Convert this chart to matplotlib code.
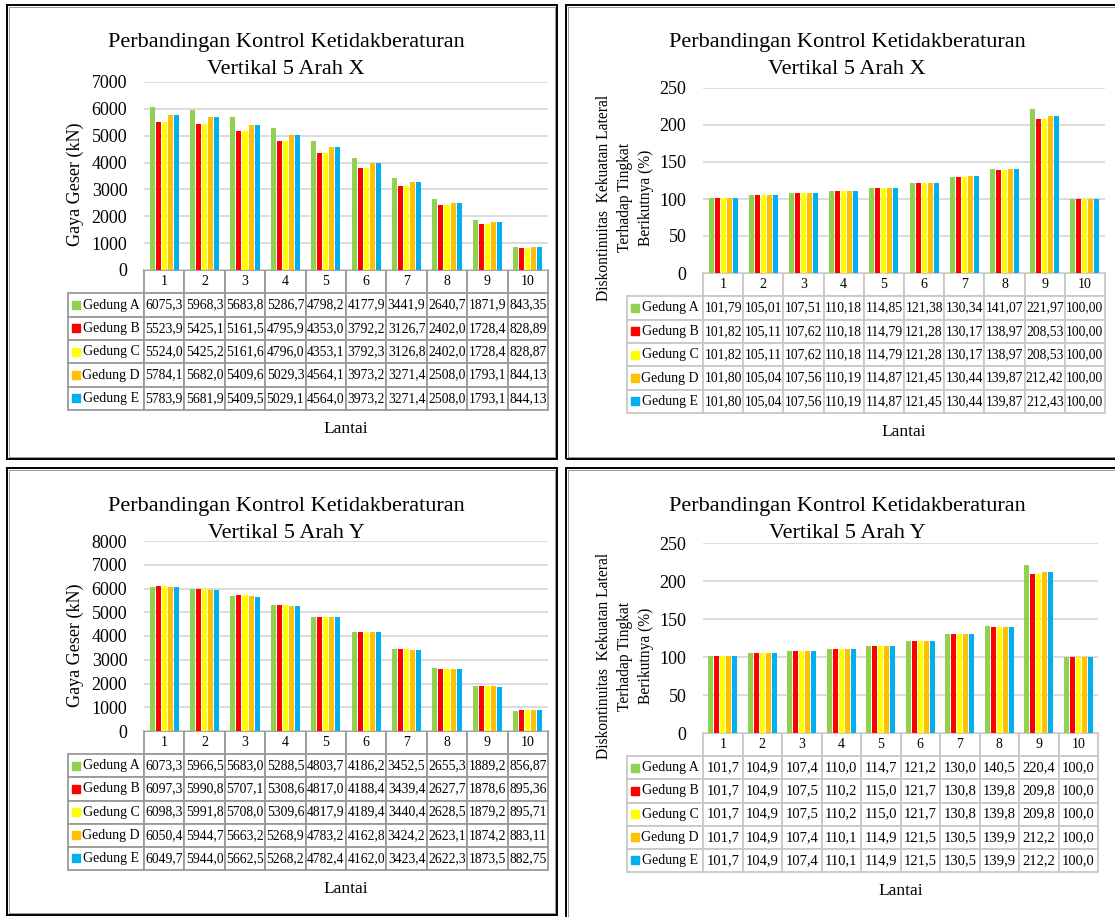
import numpy as np
import matplotlib.pyplot as plt
from matplotlib.patches import Rectangle

plt.rcParams['font.family'] = ['Liberation Serif', 'DejaVu Serif']

W, H = 1115, 917

lantai = [str(i) for i in range(1, 11)]
gedung = ['Gedung A', 'Gedung B', 'Gedung C', 'Gedung D', 'Gedung E']
warna = ['#92D050', '#FF0000', '#FFFF00', '#FFC000', '#00B0F0']

# gaya geser arah X (kN)
geser_x_a = [6075.3, 5968.3, 5683.8, 5286.7, 4798.2, 4177.9, 3441.9, 2640.7, 1871.9, 843.35]
geser_x_b = [5523.9, 5425.1, 5161.5, 4795.9, 4353.0, 3792.2, 3126.7, 2402.0, 1728.4, 828.89]
geser_x_c = [5524.0, 5425.2, 5161.6, 4796.0, 4353.1, 3792.3, 3126.8, 2402.0, 1728.4, 828.87]
geser_x_d = [5784.1, 5682.0, 5409.6, 5029.3, 4564.1, 3973.2, 3271.4, 2508.0, 1793.1, 844.13]
geser_x_e = [5783.9, 5681.9, 5409.5, 5029.1, 4564.0, 3973.2, 3271.4, 2508.0, 1793.1, 844.13]

# rasio kekuatan lateral arah X (%)
rasio_x_a = [101.79, 105.01, 107.51, 110.18, 114.85, 121.38, 130.34, 141.07, 221.97, 100.00]
rasio_x_b = [101.82, 105.11, 107.62, 110.18, 114.79, 121.28, 130.17, 138.97, 208.53, 100.00]
rasio_x_c = [101.82, 105.11, 107.62, 110.18, 114.79, 121.28, 130.17, 138.97, 208.53, 100.00]
rasio_x_d = [101.80, 105.04, 107.56, 110.19, 114.87, 121.45, 130.44, 139.87, 212.42, 100.00]
rasio_x_e = [101.80, 105.04, 107.56, 110.19, 114.87, 121.45, 130.44, 139.87, 212.43, 100.00]

# gaya geser arah Y (kN)
geser_y_a = [6073.3, 5966.5, 5683.0, 5288.5, 4803.7, 4186.2, 3452.5, 2655.3, 1889.2, 856.87]
geser_y_b = [6097.3, 5990.8, 5707.1, 5308.6, 4817.0, 4188.4, 3439.4, 2627.7, 1878.6, 895.36]
geser_y_c = [6098.3, 5991.8, 5708.0, 5309.6, 4817.9, 4189.4, 3440.4, 2628.5, 1879.2, 895.71]
geser_y_d = [6050.4, 5944.7, 5663.2, 5268.9, 4783.2, 4162.8, 3424.2, 2623.1, 1874.2, 883.11]
geser_y_e = [6049.7, 5944.0, 5662.5, 5268.2, 4782.4, 4162.0, 3423.4, 2622.3, 1873.5, 882.75]

# rasio kekuatan lateral arah Y (%)
rasio_y_a = [101.7, 104.9, 107.4, 110.0, 114.7, 121.2, 130.0, 140.5, 220.4, 100.0]
rasio_y_b = [101.7, 104.9, 107.5, 110.2, 115.0, 121.7, 130.8, 139.8, 209.8, 100.0]
rasio_y_c = [101.7, 104.9, 107.5, 110.2, 115.0, 121.7, 130.8, 139.8, 209.8, 100.0]
rasio_y_d = [101.7, 104.9, 107.4, 110.1, 114.9, 121.5, 130.5, 139.9, 212.2, 100.0]
rasio_y_e = [101.7, 104.9, 107.4, 110.1, 114.9, 121.5, 130.5, 139.9, 212.2, 100.0]

# jumlah desimal tiap kolom tabel
des_geser = [1] * 9 + [2]
des_rasio_x = [2] * 10
des_rasio_y = [1] * 10

fig = plt.figure(figsize=(W / 100, H / 100), dpi=100)


def kotak(x0, y0, x1, y1):
    fig.patches.append(Rectangle((x0 / W, 1 - y1 / H), (x1 - x0) / W, (y1 - y0) / H,
                                 transform=fig.transFigure, fill=False, ec='black', lw=1.4))
    fig.patches.append(Rectangle(((x0 + 2) / W, 1 - (y1 - 2) / H), (x1 - x0 - 4) / W, (y1 - y0 - 4) / H,
                                 transform=fig.transFigure, fill=False, ec='#888888', lw=0.6))


def fmt(v, d):
    return f'{v:.{d}f}'.replace('.', ',')


def panel(l, r, top, bot, tab_left, tab_bot, data, des, ymax, ystep,
          judul, arah, ylabel, ylabel_fs, ylabel_x, ylabel_dy, box, edge, val_fs):
    kotak(*box)
    ax = fig.add_axes([l / W, 1 - bot / H, (r - l) / W, (bot - top) / H])
    x = np.arange(10)
    for i, (seri, c) in enumerate(zip(data, warna)):
        ax.bar(x + (i - 2) * 0.15, seri, width=0.125, color=c, zorder=3)
    ax.set_xlim(-0.5, 9.5)
    ax.set_ylim(0, ymax)
    ax.set_yticks(np.arange(0, ymax + 1, ystep))
    ax.set_xticks([])
    ax.tick_params(axis='y', length=0, pad=12, labelsize=13)
    ax.grid(axis='y', color='#d9d9d9', lw=1.3, zorder=0)
    for s in ax.spines.values():
        s.set_visible(False)

    # tabel data di bawah grafik
    pw = r - l
    ph = bot - top
    x0 = (tab_left - l) / pw
    th = (tab_bot - bot) / ph
    isi = [[g] + [fmt(v, d) for v, d in zip(seri, des)] for g, seri in zip(gedung, data)]
    lw_lab = (l - tab_left) / pw
    tab = ax.table(cellText=isi, colLabels=[''] + lantai,
                   colWidths=[lw_lab] + [0.1] * 10,
                   bbox=[x0, -th, 1 - x0, th], cellLoc='center')
    tab.auto_set_font_size(False)
    tab.set_fontsize(val_fs)
    for (ri, ci), cell in tab.get_celld().items():
        cell.set_edgecolor(edge)
        cell.set_linewidth(1.3)
        if ri == 0:
            cell.get_text().set_fontsize(10)
            if ci == 0:
                cell.visible_edges = 'open'
        elif ci == 0:
            cell.PAD = 0.06
            cell.get_text().set_horizontalalignment('right')
            cell.get_text().set_fontsize(10)
    for j, c in enumerate(warna):
        yc = -(j + 1.5) * th / 6
        ax.plot([(tab_left + 7.5 - l) / pw], [yc], marker='s', ms=5.5, color=c,
                transform=ax.transAxes, clip_on=False, ls='none')

    xc = (box[0] + box[2]) / 2 + 4
    fig.text(xc / W, 1 - (box[1] + 38) / H, judul, ha='center', va='center', fontsize=16)
    fig.text(xc / W, 1 - (box[1] + 65) / H, arah, ha='center', va='center', fontsize=16)
    fig.text(ylabel_x / W, 1 - ((top + bot) / 2 + ylabel_dy) / H, ylabel, rotation=90,
             ha='center', va='center', fontsize=ylabel_fs, linespacing=1.4)
    fig.text((l + r) / 2 / W, 1 - (tab_bot + 19) / H, 'Lantai', ha='center', va='center',
             fontsize=12.5)
    return ax


judul = 'Perbandingan Kontrol Ketidakberaturan'
label_rasio = 'Diskontinuitas  Kekuatan Lateral\nTerhadap Tingkat\nBerikutnya (%)'

panel(144, 548, 82, 270, 68, 410,
      [geser_x_a, geser_x_b, geser_x_c, geser_x_d, geser_x_e], des_geser, 7000, 1000,
      judul, 'Vertikal 5 Arah X', 'Gaya Geser (kN)', 13, 75, 8, (7, 5, 557, 459), '#9a9a9a', 9.8)
panel(703, 1105, 88, 273, 627, 413,
      [rasio_x_a, rasio_x_b, rasio_x_c, rasio_x_d, rasio_x_e], des_rasio_x, 250, 50,
      judul, 'Vertikal 5 Arah X', label_rasio, 11.2, 625, 17, (566, 5, 1120, 459), '#c8c8c8', 9.8)
panel(144, 548, 541, 731, 68, 870,
      [geser_y_a, geser_y_b, geser_y_c, geser_y_d, geser_y_e], des_geser, 8000, 1000,
      judul, 'Vertikal 5 Arah Y', 'Gaya Geser (kN)', 13, 75, 9, (7, 468, 557, 915), '#9a9a9a', 9.8)
panel(703, 1098, 543, 733, 627, 872,
      [rasio_y_a, rasio_y_b, rasio_y_c, rasio_y_d, rasio_y_e], des_rasio_y, 250, 50,
      judul, 'Vertikal 5 Arah Y', label_rasio, 11.2, 625, 18, (566, 468, 1120, 920), '#c8c8c8', 10.5)

fig.savefig('out.png', dpi=100)
